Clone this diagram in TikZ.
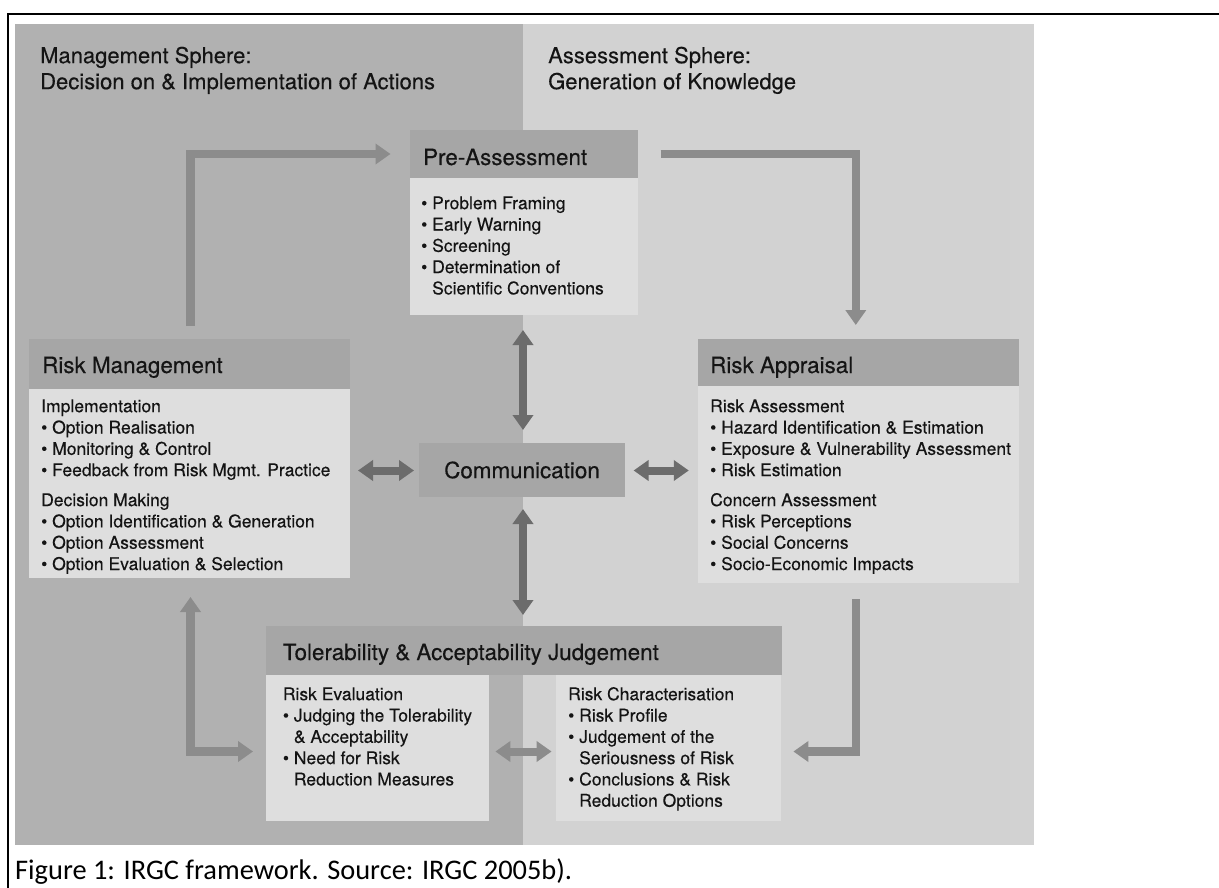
\documentclass[tikz,border=0pt]{standalone}
\usepackage{fontspec}
\setmainfont{TeX Gyre Heros}[FakeBold=0.3]
\newfontfamily\capfont{Carlito}
\usetikzlibrary{arrows.meta}
\definecolor{bgdark}{RGB}{177,177,177}
\definecolor{bglight}{RGB}{210,210,210}
\definecolor{hdrgray}{RGB}{166,166,166}
\definecolor{bodygray}{RGB}{222,222,222}
\definecolor{arrlight}{RGB}{140,140,140}
\definecolor{arrdark}{RGB}{108,108,108}
\definecolor{txtcol}{RGB}{20,20,20}
\newcommand\bul{\textbullet\ }
\newcommand\ind{\hphantom{\textbullet\ }}
\tikzset{
  boxnode/.style={anchor=north west, inner sep=0pt, outer sep=0pt, draw=none},
  hdrbox/.style={boxnode, fill=hdrgray},
  bodybox/.style={boxnode, fill=bodygray},
  spheretxt/.style={anchor=north west, inner sep=0pt, text=txtcol, align=left,
    font=\fontsize{22}{26}\selectfont},
  titletxt/.style={anchor=base west, inner sep=0pt, text=txtcol,
    font=\fontsize{22.4}{26}\selectfont},
  itemtxt/.style={anchor=north west, inner sep=0pt, text=txtcol, align=left,
    font=\fontsize{17.5}{21.3}\selectfont},
  larrow/.style={draw=arrlight, line width=8.5pt, line join=miter,
    -{Triangle[width=20pt,length=15pt]}},
  larrowtwo/.style={draw=arrlight, line width=8.5pt, line join=miter,
    {Triangle[width=20pt,length=15pt]}-{Triangle[width=20pt,length=15pt]}},
  darrow/.style={draw=arrdark, line width=8pt,
    {Triangle[width=20pt,length=15pt]}-{Triangle[width=20pt,length=15pt]}},
  darrowlight/.style={draw=arrlight, line width=8pt,
    {Triangle[width=20pt,length=15pt]}-{Triangle[width=20pt,length=15pt]}},
}
\begin{document}
\begin{tikzpicture}[x=1pt,y=-1pt]
\useasboundingbox (0,0) rectangle (1219,888);
\fill[white] (0,0) rectangle (1219,888);
% frame
\draw[line width=2pt] (1219,14) -- (7.7,14) -- (7.7,888);
% spheres
\node[boxnode, fill=bgdark, minimum width=508pt, minimum height=821pt] (mgmt) at (15,24) {};
\node[boxnode, fill=bglight, minimum width=510.5pt, minimum height=821pt] (assess) at (523,24) {};
\node[spheretxt] (mgmtlbl) at (40,44.8) {\strut Management Sphere:\\Decision on \& Implementation of Actions};
\node[spheretxt] (assesslbl) at (548,44.8) {\strut Assessment Sphere:\\Generation of Knowledge};
% Pre-Assessment
\node[hdrbox, minimum width=228pt, minimum height=48pt] (preH) at (410,130) {};
\node[bodybox, minimum width=228pt, minimum height=137pt] (preB) at (410,178) {};
\node[titletxt] (preT) at (423,165) {Pre-Assessment};
\node[itemtxt] (preI) at (421,194.1) {\strut\bul Problem Framing\\ \bul Early Warning\\ \bul Screening\\ \bul Determination of\\ \ind Scientific Conventions};
% Risk Management
\node[hdrbox, minimum width=320.5pt, minimum height=50pt] (rmH) at (29,339) {};
\node[bodybox, minimum width=320.5pt, minimum height=189pt] (rmB) at (29,389) {};
\node[titletxt] (rmT) at (42,373) {Risk Management};
\node[itemtxt] (rmI) at (41,397.1) {\strut Implementation\\ \bul Option Realisation\\ \bul Monitoring \& Control\\ \bul Feedback from Risk Mgmt. Practice\\[8.7pt] Decision Making\\ \bul Option Identification \& Generation\\ \bul Option Assessment\\ \bul Option Evaluation \& Selection};
% Risk Appraisal
\node[hdrbox, minimum width=320.5pt, minimum height=47pt] (raH) at (698,339) {};
\node[bodybox, minimum width=320.5pt, minimum height=197pt] (raB) at (698,386) {};
\node[titletxt] (raT) at (710,373) {Risk Appraisal};
\node[itemtxt] (raI) at (710,397.1) {\strut Risk Assessment\\ \bul Hazard Identification \& Estimation\\ \bul Exposure \& Vulnerability Assessment\\ \bul Risk Estimation\\[8.7pt] Concern Assessment\\ \bul Risk Perceptions\\ \bul Social Concerns\\ \bul Socio-Economic Impacts};
% Communication
\node[hdrbox, minimum width=206pt, minimum height=54pt] (comm) at (419,443) {};
\node[titletxt, anchor=center] (commT) at (comm.center) {Communication};
% Tolerability
\node[hdrbox, minimum width=516.7pt, minimum height=49pt] (tolH) at (265.7,626) {};
\node[bodybox, minimum width=223.3pt, minimum height=146pt] (evalB) at (265.7,675) {};
\node[bodybox, minimum width=225.3pt, minimum height=146pt] (charB) at (555.5,675) {};
\node[titletxt] (tolT) at (282.7,660) {Tolerability \& Acceptability Judgement};
\node[itemtxt] (evalI) at (282.7,685.1) {\strut Risk Evaluation\\ \bul Judging the Tolerability\\ \ind \& Acceptability\\ \bul Need for Risk\\ \ind Reduction Measures};
\node[itemtxt] (charI) at (568,685.1) {\strut Risk Characterisation\\ \bul Risk Profile\\ \bul Judgement of the\\ \ind Seriousness of Risk\\ \bul Conclusions \& Risk\\ \ind Reduction Options};
% arrow end coordinates
\coordinate (a1s) at (190.5,326);
\coordinate (a1e) at (390.5,154);
\coordinate (a2s) at (660.5,154);
\coordinate (a2e) at (855.8,325);
\coordinate (a3s) at (855.8,599);
\coordinate (a3e) at (793.4,751.5);
\coordinate (a4s) at (190.5,597);
\coordinate (a4e) at (253,751.5);
\coordinate (d1s) at (523,330);
\coordinate (d1e) at (523,430);
\coordinate (d2s) at (523,509);
\coordinate (d2e) at (523,615);
\coordinate (d3s) at (358,470.5);
\coordinate (d3e) at (414,470.5);
\coordinate (d4s) at (633.6,470.5);
\coordinate (d4e) at (688.8,470.5);
\coordinate (d5s) at (495.4,751.5);
\coordinate (d5e) at (551.6,751.5);
% arrows
\draw[larrow] (a1s) |- (a1e);
\draw[larrow] (a2s) -| (a2e);
\draw[larrow] (a3s) |- (a3e);
\draw[larrowtwo] (a4s) |- (a4e);
\draw[darrow] (d1s) -- (d1e);
\draw[darrow] (d2s) -- (d2e);
\draw[darrow] (d3s) -- (d3e);
\draw[darrow] (d4s) -- (d4e);
\draw[darrowlight] (d5s) -- (d5e);
% caption
\node[anchor=base west, inner sep=0pt, font=\capfont\fontsize{28.4}{33}\selectfont] (cap) at (15,879) {Figure 1: IRGC framework. Source: IRGC 2005b).};
\end{tikzpicture}
\end{document}
